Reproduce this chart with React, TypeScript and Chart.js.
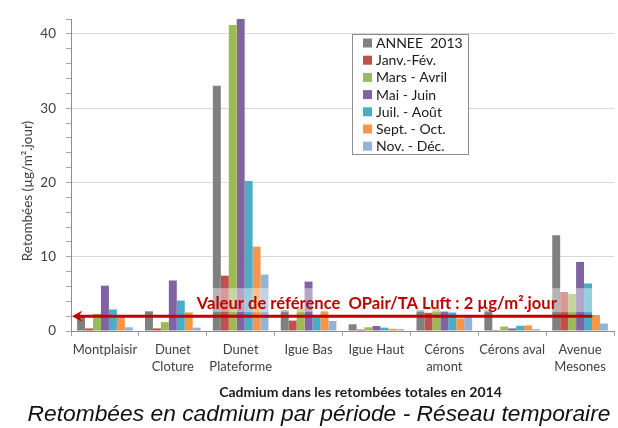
import React, { useEffect, useRef } from "react";
import { Chart, registerables } from "chart.js";

Chart.register(...registerables);

// ---- data ----
const categories: (string | string[])[] = [
  "Montplaisir",
  ["Dunet", "Cloture"],
  ["Dunet", "Plateforme"],
  "Igue Bas",
  "Igue Haut",
  ["Cérons", "amont"],
  "Cérons aval",
  ["Avenue", "Mesones"],
];
const seriesLabels = [
  "ANNEE  2013",
  "Janv.-Fév.",
  "Mars - Avril",
  "Mai - Juin",
  "Juil. - Août",
  "Sept. - Oct.",
  "Nov. - Déc.",
];
const annee2013 = [2.0, 2.65, 33.0, 2.8, 0.9, 2.8, 2.8, 12.9];
const janvFev = [0.35, 0.35, 7.45, 1.4, 0.2, 2.45, 0.13, 5.25];
const marsAvril = [2.3, 1.2, 41.2, 3.0, 0.5, 2.9, 0.6, 5.0];
const maiJuin = [6.1, 6.8, 42.0, 6.65, 0.67, 2.65, 0.35, 9.3];
const juilAout = [2.9, 4.1, 20.2, 1.85, 0.45, 2.5, 0.7, 6.4];
const septOct = [2.1, 2.5, 11.35, 2.7, 0.3, 1.7, 0.75, 2.15];
const novDec = [0.5, 0.45, 7.6, 1.35, 0.25, 1.85, 0.25, 1.0];
const yTickLabels = [0, 10, 20, 30, 40];
const yMax = 42;
const yMinorStep = 2;
const referenceValue = 2;
const referenceLabel = "Valeur de référence  OPair/TA Luft : 2 µg/m².jour";
const yAxisTitle = "Retombées (µg/m².jour)";
const xAxisTitle = "Cadmium dans les retombées totales en 2014";
const caption = "Retombées en cadmium par période - Réseau temporaire";

const seriesValues = [annee2013, janvFev, marsAvril, maiJuin, juilAout, septOct, novDec];
const seriesColors = ["#808080", "#C0504D", "#9BBB59", "#8064A2", "#4BACC6", "#F79646", "#95B3D7"];

const FONT = "Lato, 'Open Sans', sans-serif";

const referencePlugin = {
  id: "referenceLine",
  afterDatasetsDraw(chart: any) {
    const ctx = chart.ctx;
    const { left, right } = chart.chartArea;
    const w = right - left;
    const y = chart.scales.y.getPixelForValue(referenceValue);
    const endX = left + w * 0.96;
    const boxX = left + w * 0.228;
    ctx.save();
    ctx.fillStyle = "rgba(255,255,255,0.42)";
    ctx.fillRect(boxX, y - 28, endX - boxX, 24);
    const targetW = w * 0.663;
    ctx.font = `bold 15px ${FONT}`;
    const mw = ctx.measureText(referenceLabel).width;
    const fs = (15 * targetW) / mw;
    ctx.font = `bold ${fs.toFixed(2)}px ${FONT}`;
    ctx.fillStyle = "#C00000";
    ctx.textBaseline = "alphabetic";
    ctx.textAlign = "left";
    ctx.fillText(referenceLabel, boxX + 2, y - 7);
    ctx.strokeStyle = "#C00000";
    ctx.lineWidth = 3;
    ctx.beginPath();
    ctx.moveTo(left + 6, y);
    ctx.lineTo(endX, y);
    ctx.stroke();
    ctx.fillStyle = "#C00000";
    ctx.beginPath();
    ctx.moveTo(left + 1, y);
    ctx.lineTo(left + 11, y - 5.5);
    ctx.lineTo(left + 8, y);
    ctx.lineTo(left + 11, y + 5.5);
    ctx.closePath();
    ctx.fill();
    ctx.restore();
  },
};

const legendPlugin = {
  id: "boxLegend",
  afterDraw(chart: any) {
    const ctx = chart.ctx;
    const x = 352, y = 34, w = 116, h = 120;
    ctx.save();
    ctx.fillStyle = "#ffffff";
    ctx.fillRect(x, y, w, h);
    ctx.strokeStyle = "#8c8c8c";
    ctx.lineWidth = 1;
    ctx.strokeRect(x + 0.5, y + 0.5, w, h);
    ctx.font = `14px ${FONT}`;
    ctx.textBaseline = "middle";
    ctx.textAlign = "left";
    chart.data.datasets.forEach((ds: any, i: number) => {
      const cy = y + 9 + i * 17.2;
      ctx.fillStyle = ds.backgroundColor;
      ctx.fillRect(x + 11, cy - 4.5, 9, 9);
      ctx.fillStyle = "#1a1a1a";
      ctx.fillText(ds.label, x + 24, cy + 0.5);
    });
    ctx.restore();
  },
};

const titlesPlugin = {
  id: "axisTitles",
  afterDraw(chart: any) {
    const ctx = chart.ctx;
    const { top, bottom, left, right } = chart.chartArea;
    ctx.save();
    ctx.translate(28, (top + bottom) / 2 + 16);
    ctx.rotate(-Math.PI / 2);
    ctx.font = `13.5px ${FONT}`;
    ctx.fillStyle = "#404040";
    ctx.textAlign = "center";
    ctx.textBaseline = "middle";
    ctx.fillText(yAxisTitle, 0, 0);
    ctx.restore();
    ctx.save();
    ctx.font = `bold 14px ${FONT}`;
    ctx.fillStyle = "#1a1a1a";
    ctx.textAlign = "center";
    ctx.textBaseline = "middle";
    ctx.fillText(xAxisTitle, (left + right) / 2 + 18, bottom + 61);
    ctx.restore();
  },
};

export default function App() {
  const ref = useRef<HTMLCanvasElement | null>(null);
  useEffect(() => {
    if (!ref.current) return;
    const chart = new Chart(ref.current, {
      type: "bar",
      data: {
        labels: categories as any,
        datasets: seriesLabels.map((label, i) => ({
          label,
          data: seriesValues[i],
          backgroundColor: seriesColors[i],
          borderWidth: 0,
          categoryPercentage: 0.82,
          barPercentage: 1.0,
        })),
      },
      options: {
        responsive: false,
        animation: false,
        layout: { padding: { left: 0, top: 19, right: 4, bottom: 26 } },
        plugins: {
          legend: { display: false },
          tooltip: { enabled: false },
          title: { display: false },
        },
        scales: {
          x: {
            afterFit: (s: any) => { s.height = 71; },
            grid: {
              offset: true,
              drawOnChartArea: false,
              drawTicks: true,
              tickLength: 5,
              tickColor: "#a6a6a6",
            },
            border: { color: "#8c8c8c" },
            ticks: {
              color: "#404040",
              font: { family: FONT, size: 13, lineHeight: 1.3 },
              padding: 5,
              maxRotation: 0,
              autoSkip: false,
            },
            title: { display: false, text: xAxisTitle },
          },
          y: {
            min: 0,
            max: yMax,
            afterFit: (s: any) => { s.width = 71; },
            afterBuildTicks: (s: any) => {
              const t: any[] = [];
              for (let v = 0; v <= yMax; v += yMinorStep) t.push({ value: v });
              s.ticks = t;
            },
            grid: {
              color: (c: any) =>
                c.tick && c.tick.value !== 0 && yTickLabels.includes(c.tick.value)
                  ? "#d9d9d9"
                  : "rgba(0,0,0,0)",
              tickColor: "#a6a6a6",
              tickLength: 5,
              drawTicks: true,
            },
            border: { color: "#8c8c8c" },
            ticks: {
              color: "#404040",
              font: { family: FONT, size: 13.5 },
              padding: 10,
              autoSkip: false,
              callback: (v: any) => (yTickLabels.includes(Number(v)) ? String(v) : ""),
            },
            title: { display: false, text: yAxisTitle },
          },
        },
      },
      plugins: [referencePlugin, legendPlugin, titlesPlugin],
    });
    return () => chart.destroy();
  }, []);

  return (
    <div style={{ position: "absolute", left: 0, top: 0, width: 618, height: 428, background: "#fff" }}>
      <canvas ref={ref} width={618} height={428} style={{ display: "block" }} />
      <div
        style={{
          position: "absolute",
          left: 0,
          width: 638,
          top: 402,
          textAlign: "center",
          fontFamily: "'Liberation Sans', Arial, sans-serif",
          fontStyle: "italic",
          fontSize: 22.8,
          lineHeight: "23px",
          color: "#111",
          whiteSpace: "nowrap",
        }}
      >
        {caption}
      </div>
    </div>
  );
}
